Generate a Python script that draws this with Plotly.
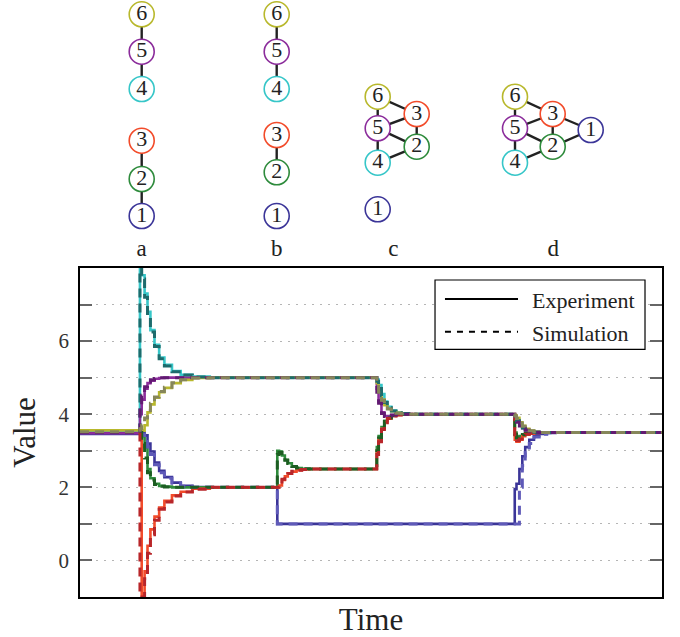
import plotly.graph_objects as go

FONT = "Liberation Serif, Times New Roman, DejaVu Serif, serif"

# ---------------- data ----------------
switch_times = [10.3, 33.9, 51.0, 74.7]          # graph changes a, b, c, d
offsets = [0, 0.3, 0.8, 1.3, 1.8, 2.5, 3.3, 4.2, 5.5, 7.0, 9.0, 12.0]
t_end = 100.0

exp_init = {1: 3.46, 2: 3.50, 3: 3.52, 4: 3.50, 5: 3.48, 6: 3.56}
sim_init = {1: 3.50, 2: 3.50, 3: 3.50, 4: 3.50, 5: 3.50, 6: 3.52}

# experiment values after each switch (one list per switch)
exp_n1 = [[3.5, 3.5, 3.42, 3.2, 2.98, 2.68, 2.45, 2.28, 2.13, 2.04, 2.01, 2.0],
          [1.0, 1.0, 1.0, 1.0, 1.0, 1.0, 1.0, 1.0, 1.0, 1.0, 1.0, 1.0],
          [1.0, 1.0, 1.0, 1.0, 1.0, 1.0, 1.0, 1.0, 1.0, 1.0, 1.0, 1.0],
          [1.95, 2.1, 2.5, 2.85, 3.1, 3.3, 3.42, 3.46, 3.49, 3.5, 3.5, 3.5]]
exp_n2 = [[3.5, 3.4, 3.1, 2.5, 2.25, 2.1, 2.04, 2.02, 2.0, 2.0, 2.0, 2.0],
          [3.0, 2.98, 2.87, 2.75, 2.66, 2.57, 2.53, 2.51, 2.5, 2.5, 2.5, 2.5],
          [3.1, 3.4, 3.65, 3.82, 3.9, 3.96, 3.99, 4.0, 4.0, 4.0, 4.0, 4.0],
          [3.5, 3.38, 3.4, 3.45, 3.47, 3.49, 3.5, 3.5, 3.5, 3.5, 3.5, 3.5]]
exp_n3 = [[3.5, -1.0, -0.3, 0.4, 0.85, 1.2, 1.45, 1.63, 1.78, 1.88, 1.96, 2.0],
          [2.0, 2.05, 2.2, 2.3, 2.37, 2.43, 2.47, 2.49, 2.5, 2.5, 2.5, 2.5],
          [3.0, 3.3, 3.6, 3.78, 3.88, 3.95, 3.98, 4.0, 4.0, 4.0, 4.0, 4.0],
          [3.3, 3.25, 3.3, 3.4, 3.44, 3.47, 3.49, 3.5, 3.5, 3.5, 3.5, 3.5]]
exp_n4 = [[8.0, 7.8, 7.3, 6.8, 6.3, 5.9, 5.55, 5.35, 5.18, 5.08, 5.03, 5.0],
          [5.0, 5.0, 5.0, 5.0, 5.0, 5.0, 5.0, 5.0, 5.0, 5.0, 5.0, 5.0],
          [4.95, 4.8, 4.55, 4.35, 4.2, 4.1, 4.05, 4.02, 4.0, 4.0, 4.0, 4.0],
          [3.95, 3.85, 3.72, 3.64, 3.58, 3.54, 3.52, 3.5, 3.5, 3.5, 3.5, 3.5]]
exp_n5 = [[4.0, 4.4, 4.7, 4.85, 4.92, 4.97, 4.99, 5.0, 5.0, 5.0, 5.0, 5.0],
          [5.0, 5.0, 5.0, 5.0, 5.0, 5.0, 5.0, 5.0, 5.0, 5.0, 5.0, 5.0],
          [4.7, 4.35, 4.05, 3.95, 3.95, 3.98, 4.0, 4.0, 4.0, 4.0, 4.0, 4.0],
          [3.9, 3.8, 3.7, 3.62, 3.57, 3.53, 3.51, 3.5, 3.5, 3.5, 3.5, 3.5]]
exp_n6 = [[3.5, 3.55, 3.7, 4.05, 4.27, 4.45, 4.6, 4.72, 4.85, 4.94, 4.99, 5.0],
          [5.0, 5.0, 5.0, 5.0, 5.0, 5.0, 5.0, 5.0, 5.0, 5.0, 5.0, 5.0],
          [4.85, 4.65, 4.4, 4.25, 4.15, 4.08, 4.04, 4.02, 4.0, 4.0, 4.0, 4.0],
          [3.97, 3.9, 3.78, 3.68, 3.6, 3.55, 3.52, 3.5, 3.5, 3.5, 3.5, 3.5]]

# simulation values after each switch
sim_n1 = [[3.5, 3.45, 3.3, 3.1, 2.9, 2.62, 2.4, 2.25, 2.11, 2.03, 2.0, 2.0],
          [1.0, 1.0, 1.0, 1.0, 1.0, 1.0, 1.0, 1.0, 1.0, 1.0, 1.0, 1.0],
          [1.0, 1.0, 1.0, 1.0, 1.0, 1.0, 1.0, 1.0, 1.0, 1.0, 1.0, 1.0],
          [1.0, 1.0, 2.0, 2.6, 2.95, 3.2, 3.38, 3.45, 3.49, 3.5, 3.5, 3.5]]
sim_n2 = [[3.5, 3.2, 2.8, 2.4, 2.2, 2.08, 2.03, 2.01, 2.0, 2.0, 2.0, 2.0],
          [2.9, 2.95, 2.85, 2.74, 2.65, 2.57, 2.53, 2.51, 2.5, 2.5, 2.5, 2.5],
          [3.0, 3.35, 3.62, 3.8, 3.9, 3.96, 3.99, 4.0, 4.0, 4.0, 4.0, 4.0],
          [3.45, 3.35, 3.38, 3.44, 3.47, 3.49, 3.5, 3.5, 3.5, 3.5, 3.5, 3.5]]
sim_n3 = [[-1.0, -1.0, -0.5, 0.2, 0.7, 1.1, 1.4, 1.6, 1.76, 1.87, 1.95, 2.0],
          [2.0, 2.08, 2.22, 2.32, 2.38, 2.44, 2.47, 2.49, 2.5, 2.5, 2.5, 2.5],
          [2.9, 3.25, 3.58, 3.77, 3.88, 3.95, 3.98, 4.0, 4.0, 4.0, 4.0, 4.0],
          [3.35, 3.28, 3.32, 3.41, 3.45, 3.48, 3.5, 3.5, 3.5, 3.5, 3.5, 3.5]]
sim_n4 = [[8.0, 7.7, 7.2, 6.7, 6.25, 5.85, 5.52, 5.32, 5.16, 5.07, 5.02, 5.0],
          [5.0, 5.0, 5.0, 5.0, 5.0, 5.0, 5.0, 5.0, 5.0, 5.0, 5.0, 5.0],
          [4.9, 4.75, 4.5, 4.32, 4.18, 4.09, 4.04, 4.02, 4.0, 4.0, 4.0, 4.0],
          [3.92, 3.82, 3.7, 3.62, 3.57, 3.53, 3.51, 3.5, 3.5, 3.5, 3.5, 3.5]]
sim_n5 = [[4.2, 4.5, 4.75, 4.88, 4.94, 4.98, 5.0, 5.0, 5.0, 5.0, 5.0, 5.0],
          [5.0, 5.0, 5.0, 5.0, 5.0, 5.0, 5.0, 5.0, 5.0, 5.0, 5.0, 5.0],
          [4.6, 4.3, 4.02, 3.94, 3.95, 3.98, 4.0, 4.0, 4.0, 4.0, 4.0, 4.0],
          [3.88, 3.78, 3.68, 3.61, 3.56, 3.53, 3.51, 3.5, 3.5, 3.5, 3.5, 3.5]]
sim_n6 = [[3.6, 3.7, 3.9, 4.1, 4.3, 4.47, 4.62, 4.74, 4.86, 4.94, 4.99, 5.0],
          [5.0, 5.0, 5.0, 5.0, 5.0, 5.0, 5.0, 5.0, 5.0, 5.0, 5.0, 5.0],
          [4.8, 4.6, 4.38, 4.24, 4.14, 4.07, 4.03, 4.01, 4.0, 4.0, 4.0, 4.0],
          [3.95, 3.88, 3.76, 3.67, 3.6, 3.55, 3.52, 3.5, 3.5, 3.5, 3.5, 3.5]]

exp_data = {1: exp_n1, 2: exp_n2, 3: exp_n3, 4: exp_n4, 5: exp_n5, 6: exp_n6}
sim_data = {1: sim_n1, 2: sim_n2, 3: sim_n3, 4: sim_n4, 5: sim_n5, 6: sim_n6}

# graph diagrams (schematic layout units) ------------------------------
diagram_labels = ["a", "b", "c", "d"]
diagram_label_x = [141.7, 276.7, 393.3, 553.3]
diagram_node_x = [
    [141.7, 141.7, 141.7, 141.7, 141.7, 141.7],
    [276.7, 276.7, 276.7, 276.7, 276.7, 276.7],
    [377.7, 416.7, 416.7, 377.7, 377.7, 377.7],
    [590.7, 552.7, 552.7, 515.0, 515.0, 515.0],
]
diagram_node_y = [
    [216.0, 179.0, 140.7, 89.0, 51.7, 14.3],
    [216.0, 172.3, 135.0, 89.0, 51.7, 14.3],
    [209.3, 146.7, 114.0, 162.7, 128.3, 96.7],
    [130.0, 146.7, 114.0, 162.7, 128.3, 96.7],
]
diagram_edges = [
    [(1, 2), (2, 3), (4, 5), (5, 6)],
    [(2, 3), (4, 5), (5, 6)],
    [(2, 3), (4, 5), (5, 6), (6, 3), (5, 3), (5, 2), (4, 2)],
    [(2, 3), (4, 5), (5, 6), (6, 3), (5, 3), (5, 2), (4, 2), (3, 1), (2, 1)],
]
node_names = ["1", "2", "3", "4", "5", "6"]

# ---------------- styles ----------------
exp_colors = {1: "#3b3598", 2: "#2e8b3c", 3: "#f24b2a", 4: "#36c6c8", 5: "#8b2c9b", 6: "#b8b82c"}
sim_colors = {1: "#5f5ab8", 2: "#1d5e22", 3: "#b8262a", 4: "#1e6b6c", 5: "#621a72", 6: "#86865a"}


def build(init, events):
    ts, vs = [0.0], [init]
    for ts0, vals in zip(switch_times, events):
        for o, v in zip(offsets, vals):
            ts.append(ts0 + o)
            vs.append(v)
    ts.append(t_end)
    vs.append(vs[-1])
    return ts, vs


fig = go.Figure()

for n in range(1, 7):
    x, y = build(exp_init[n], exp_data[n])
    fig.add_trace(go.Scatter(x=x, y=y, mode="lines", line_shape="hv",
                             line=dict(color=exp_colors[n], width=2.6),
                             showlegend=False, hoverinfo="skip"))
for n in range(1, 7):
    x, y = build(sim_init[n], sim_data[n])
    fig.add_trace(go.Scatter(x=x, y=y, mode="lines", line_shape="hv",
                             line=dict(color=sim_colors[n], width=3.0, dash="9px,6px"),
                             showlegend=False, hoverinfo="skip"))

# diagrams
for d in range(4):
    ex, ey = [], []
    for a, b in diagram_edges[d]:
        ex += [diagram_node_x[d][a - 1], diagram_node_x[d][b - 1], None]
        ey += [diagram_node_y[d][a - 1], diagram_node_y[d][b - 1], None]
    fig.add_trace(go.Scatter(x=ex, y=ey, mode="lines", xaxis="x2", yaxis="y2",
                             line=dict(color="#222222", width=2.4), cliponaxis=False,
                             showlegend=False, hoverinfo="skip"))
    fig.add_trace(go.Scatter(
        x=diagram_node_x[d], y=diagram_node_y[d], mode="markers+text",
        xaxis="x2", yaxis="y2", text=node_names, textposition="middle center",
        textfont=dict(family=FONT, size=22, color="#222222"), cliponaxis=False,
        marker=dict(size=25, color="white",
                    line=dict(color=[exp_colors[k] for k in range(1, 7)], width=1.6)),
        showlegend=False, hoverinfo="skip"))
fig.add_trace(go.Scatter(x=diagram_label_x, y=[250] * 4, mode="text", text=diagram_labels,
                         xaxis="x2", yaxis="y2", textposition="middle center",
                         textfont=dict(family=FONT, size=23, color="#222222"),
                         cliponaxis=False, showlegend=False, hoverinfo="skip"))

plot_h = 597
main_top = 329 / plot_h
top_bottom = 335 / plot_h

fig.update_layout(
    width=680, height=637,
    margin=dict(l=80, r=18, t=0, b=40, autoexpand=False),
    paper_bgcolor="white", plot_bgcolor="white",
    font=dict(family=FONT, color="#222222"),
    xaxis=dict(domain=[0, 1], range=[0, t_end], showline=True, linecolor="black",
               linewidth=1.5, mirror=True, ticks="", showticklabels=False,
               showgrid=False, zeroline=False,
               title=dict(text="Time", font=dict(family=FONT, size=31), standoff=11)),
    yaxis=dict(domain=[0, main_top], range=[-1, 8], tickvals=[0, 1, 2, 3, 4, 5, 6, 7],
               ticktext=["0", "", "2", "", "4", "", "6", ""],
               ticks="inside", ticklen=12, tickwidth=1.5, tickcolor="#666666",
               showline=True, linecolor="black", linewidth=1.5, mirror="ticks",
               showgrid=True, gridcolor="#b5b5b5", griddash="2px,6px", gridwidth=1,
               zeroline=False, ticklabelstandoff=5,
               tickfont=dict(family=FONT, size=21, color="#333333"),
               title=dict(text="Value", font=dict(family=FONT, size=31), standoff=14)),
    xaxis2=dict(domain=[0, 1], range=[80, 662], visible=False, anchor="y2"),
    yaxis2=dict(domain=[top_bottom, 1], range=[262, 0], visible=False, anchor="x2"),
)

# legend box drawn manually
fig.add_shape(type="rect", xref="x domain", yref="y domain", x0=0.610, x1=0.9708,
              y0=0.7529, y1=0.9635, line=dict(color="black", width=1.2),
              fillcolor="white", layer="above")
fig.add_shape(type="line", xref="x domain", yref="y domain", x0=0.6271, x1=0.7526,
              y0=0.9058, y1=0.9058, line=dict(color="black", width=2), layer="above")
fig.add_shape(type="line", xref="x domain", yref="y domain", x0=0.6271, x1=0.7526,
              y0=0.8064, y1=0.8064, line=dict(color="black", width=2, dash="6px,6px"),
              layer="above")
fig.add_annotation(xref="x domain", yref="y domain", x=0.7732, y=0.9006, text="Experiment",
                   showarrow=False, xanchor="left", yanchor="middle",
                   font=dict(family=FONT, size=22, color="#222222"))
fig.add_annotation(xref="x domain", yref="y domain", x=0.7732, y=0.8024, text="Simulation",
                   showarrow=False, xanchor="left", yanchor="middle",
                   font=dict(family=FONT, size=22, color="#222222"))

fig.write_html("out.html", config={"displayModeBar": False},
               post_script="document.body.style.margin='0px';document.body.style.padding='0px';")
